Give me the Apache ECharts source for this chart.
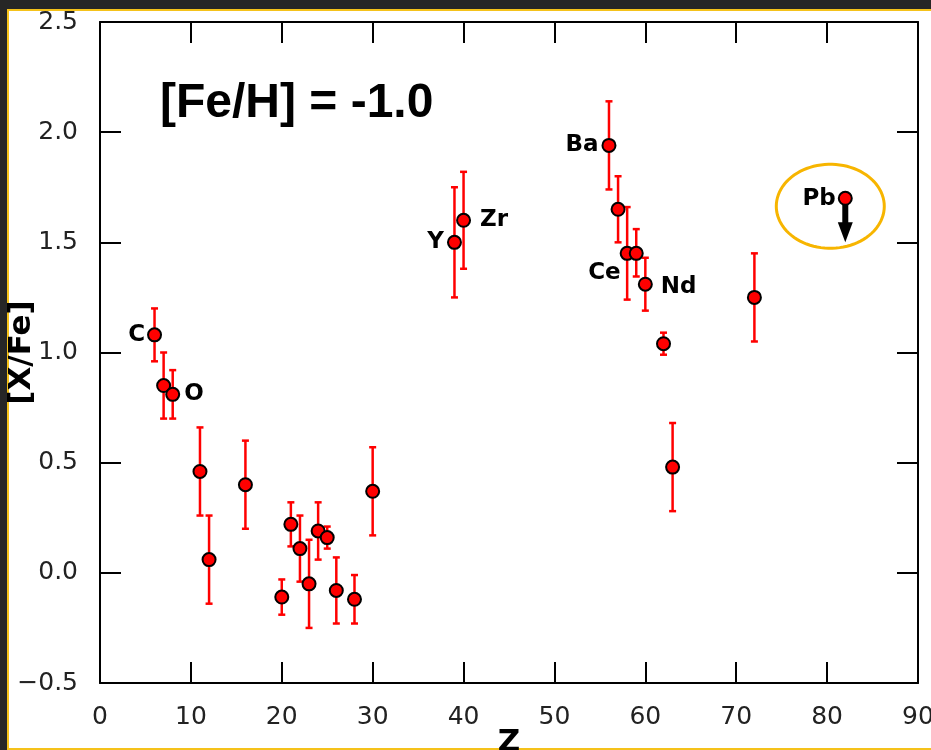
<!DOCTYPE html>
<html>
<head>
<meta charset="utf-8">
<script src="https://cdn.jsdelivr.net/npm/echarts@6/dist/echarts.min.js"></script>
<style>
html,body{margin:0;padding:0;background:#262626;width:931px;height:750px;overflow:hidden;}
#frame{position:absolute;left:7px;top:9px;width:940px;height:737px;border:2px solid #f5c21a;background:#fff;}
#chart{position:absolute;left:0;top:0;width:931px;height:750px;}
</style>
</head>
<body>
<div id="frame"></div>
<div id="chart"></div>
<script>
// Atomic number Z
var zValues   = [6, 7, 8, 11, 12, 16, 20, 21, 22, 23, 24, 25, 26, 28, 30, 39, 40, 56, 57, 58, 59, 60, 62, 63, 72, 82];
// [X/Fe]
var xfeValues = [1.08, 0.85, 0.81, 0.46, 0.06, 0.40, -0.11, 0.22, 0.11, -0.05, 0.19, 0.16, -0.08, -0.12, 0.37, 1.50, 1.60, 1.94, 1.65, 1.45, 1.45, 1.31, 1.04, 0.48, 1.25, 1.70];
// error bar upper / lower ends (null = upper limit, no bar)
var errHigh   = [1.20, 1.00, 0.92, 0.66, 0.26, 0.60, -0.03, 0.32, 0.26, 0.15, 0.32, 0.21, 0.07, -0.01, 0.57, 1.75, 1.82, 2.14, 1.80, 1.66, 1.56, 1.43, 1.09, 0.68, 1.45, null];
var errLow    = [0.96, 0.70, 0.70, 0.26, -0.14, 0.20, -0.19, 0.12, -0.04, -0.25, 0.06, 0.11, -0.23, -0.23, 0.17, 1.25, 1.38, 1.74, 1.50, 1.24, 1.345, 1.19, 0.99, 0.28, 1.05, null];
// element labels shown on the chart
var elementLabels = ['C', '', 'O', '', '', '', '', '', '', '', '', '', '', '', '', 'Y', 'Zr', 'Ba', '', 'Ce', '', 'Nd', '', '', '', 'Pb'];
// upper limit: [Z, value, arrow tip]
var upperLimit = [82, 1.70, 1.50];
var xTicks = ['0','10','20','30','40','50','60','70','80','90'];
var yTicks = ['\u22120.5','0.0','0.5','1.0','1.5','2.0','2.5'];

var labelStyle = {
  'C':  {position: 'left', distance: 2},
  'O':  {position: 'right', distance: 4},
  'Y':  {position: 'left', distance: 3},
  'Zr': {position: 'right', distance: 9},
  'Ba': {position: 'left', distance: 3},
  'Ce': {position: 'left', distance: 0, offset: [1, 20]},
  'Nd': {position: 'right', distance: 8, offset: [0, 3]},
  'Pb': {position: 'left', distance: 2, offset: [0, 1]}
};

var pointData = zValues.map(function (z, i) {
  var item = {value: [z, xfeValues[i]]};
  var name = elementLabels[i];
  if (name) {
    var s = labelStyle[name];
    item.label = {
      show: true, formatter: name, position: s.position, distance: s.distance,
      offset: s.offset || [0, 0], color: '#000', fontWeight: 'bold',
      fontFamily: 'DejaVu Sans', fontSize: 23
    };
  }
  return item;
});

var errData = [];
zValues.forEach(function (z, i) {
  if (errHigh[i] !== null) errData.push([z, errLow[i], errHigh[i]]);
});

var chart = echarts.init(document.getElementById('chart'), null, {renderer: 'canvas'});

var tickFont = {fontFamily: 'DejaVu Sans', fontSize: 25, color: '#222'};
function xLab(v) { var k = Math.round(v / 10); return xTicks[k] !== undefined ? xTicks[k] : ''; }
function yLab(v) { var k = Math.round((v + 0.5) / 0.5); return yTicks[k] !== undefined ? yTicks[k] : ''; }

function axisCommon() {
  return {
    axisLine: {show: true, onZero: false, lineStyle: {color: '#000', width: 2}},
    axisTick: {show: true, inside: true, length: 21, lineStyle: {color: '#000', width: 2}},
    splitLine: {show: false}
  };
}

chart.setOption({
  animation: false,
  backgroundColor: 'transparent',
  title: {
    text: '[Fe/H] = -1.0', left: 155, top: 75,
    textStyle: {fontFamily: 'Liberation Sans', fontWeight: 'bold', fontSize: 48, color: '#000'}
  },
  grid: {left: 100, right: 13, top: 22, bottom: 67, containLabel: false, outerBoundsMode: 'none'},
  xAxis: [
    Object.assign({
      type: 'value', min: 0, max: 90, interval: 10, position: 'bottom',
      name: 'Z', nameLocation: 'middle', nameGap: 44, nameMoveOverlap: false,
      nameTextStyle: {fontFamily: 'DejaVu Sans', fontWeight: 'bold', fontSize: 31, color: '#000'},
      axisLabel: Object.assign({margin: 22, formatter: xLab}, tickFont)
    }, axisCommon()),
    Object.assign({
      type: 'value', min: 0, max: 90, interval: 10, position: 'top',
      axisLabel: {show: false}
    }, axisCommon())
  ],
  yAxis: [
    Object.assign({
      type: 'value', min: -0.5, max: 2.5, interval: 0.5, position: 'left',
      name: '[X/Fe]', nameLocation: 'middle', nameGap: 63, nameRotate: 90, nameMoveOverlap: false,
      nameTextStyle: {fontFamily: 'DejaVu Sans', fontWeight: 'bold', fontSize: 31, color: '#000'},
      axisLabel: Object.assign({margin: 22, formatter: yLab}, tickFont)
    }, axisCommon()),
    Object.assign({
      type: 'value', min: -0.5, max: 2.5, interval: 0.5, position: 'right',
      axisLabel: {show: false}
    }, axisCommon())
  ],
  series: [
    {
      type: 'custom', z: 2, silent: true,
      data: errData,
      renderItem: function (params, api) {
        var x = api.value(0);
        var lo = api.coord([x, api.value(1)]);
        var hi = api.coord([x, api.value(2)]);
        var cw = 3.5;
        var st = {stroke: '#ff0000', lineWidth: 2.5};
        return {
          type: 'group',
          children: [
            {type: 'line', shape: {x1: hi[0], y1: hi[1], x2: lo[0], y2: lo[1]}, style: st},
            {type: 'line', shape: {x1: hi[0] - cw, y1: hi[1], x2: hi[0] + cw, y2: hi[1]}, style: st},
            {type: 'line', shape: {x1: lo[0] - cw, y1: lo[1], x2: lo[0] + cw, y2: lo[1]}, style: st}
          ]
        };
      }
    },
    {
      type: 'custom', z: 3, silent: true,
      data: [upperLimit],
      renderItem: function (params, api) {
        var x = api.value(0);
        var p = api.coord([x, api.value(1)]);
        var t = api.coord([x, api.value(2)]);
        var headH = 20, headW = 7.5, shaftW = 3;
        var pts = [];
        var cx = p[0] - 15, cy = p[1] + 8, rx = 54, ry = 42;
        for (var k = 0; k < 90; k++) {
          var a = k / 90 * Math.PI * 2;
          pts.push([cx + rx * Math.cos(a), cy + ry * Math.sin(a)]);
        }
        return {
          type: 'group',
          children: [
            {type: 'polygon', shape: {points: pts}, style: {fill: 'none', stroke: '#f7b500', lineWidth: 3}},
            {type: 'rect', shape: {x: p[0] - shaftW, y: p[1], width: shaftW * 2, height: t[1] - headH - p[1] + 1}, style: {fill: '#000'}},
            {type: 'polygon', shape: {points: [[t[0] - headW, t[1] - headH], [t[0] + headW, t[1] - headH], [t[0], t[1]]]}, style: {fill: '#000'}}
          ]
        };
      }
    },
    {
      type: 'scatter', z: 4,
      symbol: 'circle', symbolSize: 13,
      itemStyle: {color: '#ff0000', borderColor: '#000', borderWidth: 2, opacity: 1},
      data: pointData
    }
  ]
});
</script>
</body>
</html>
